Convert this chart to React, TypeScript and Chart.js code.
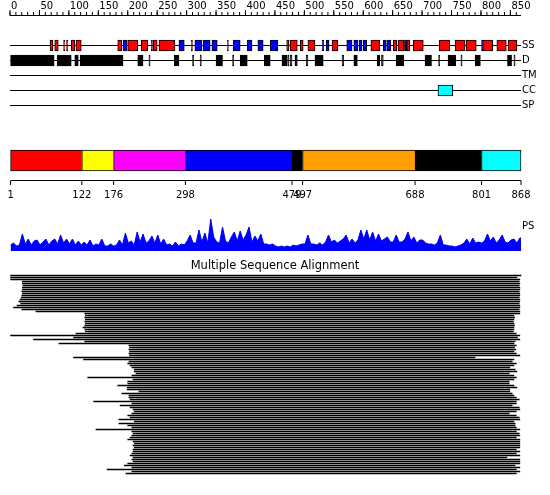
import React, { useEffect, useRef } from "react";
import { Chart, registerables } from "chart.js";

Chart.register(...registerables);

// ---------------- data ----------------
const SEQ_LENGTH = 868;
const RULER_LABELS = [0, 50, 100, 150, 200, 250, 300, 350, 400, 450, 500, 550, 600, 650, 700, 750, 800, 850];
const RULER_MINOR_STEP = 10;
const TRACK_NAMES = ["SS", "D", "TM", "CC", "SP"];

const SS_HELIX: [number, number][] = [
  [68, 73], [76, 82], [91, 93], [96, 98], [104, 110], [112, 121], [183, 190], [200, 217],
  [223, 234], [243, 250], [253, 280], [308, 310], [369, 371], [470, 474], [476, 488],
  [493, 498], [506, 518], [547, 557], [613, 628], [651, 657], [659, 669], [674, 679],
  [685, 702], [729, 747], [756, 773], [775, 792], [803, 820], [827, 843], [846, 861],
];
const SS_STRAND: [number, number][] = [
  [192, 199], [240, 242], [287, 296], [314, 326], [328, 340], [343, 352], [379, 391],
  [403, 411], [421, 430], [442, 455], [530, 533], [537, 542], [572, 581], [584, 591],
  [593, 598], [600, 606], [634, 639], [640, 647], [670, 674], [801, 804],
];
const DISORDER: [number, number][] = [
  [1, 75], [80, 104], [110, 116], [119, 192], [217, 226], [236, 238], [279, 287], [310, 312],
  [323, 325], [350, 361], [378, 380], [391, 403], [432, 442], [462, 471], [472, 474],
  [476, 479], [484, 488], [503, 506], [518, 532], [564, 567], [584, 590], [624, 628],
  [631, 634], [656, 669], [705, 716], [728, 730], [744, 757], [766, 768], [790, 799],
  [845, 852], [856, 858],
];
const TRANSMEMBRANE: [number, number][] = [];
const COILED_COIL: [number, number][] = [[727, 752]];
const SIGNAL_PEPTIDE: [number, number][] = [];

const DOMAIN_BOUNDARIES = [1, 122, 176, 298, 479, 497, 688, 801, 868];
const DOMAIN_COLORS = ["#ff0000", "#ffff00", "#ff00ff", "#0000ff", "#000000", "#ffa000", "#000000", "#00ffff"];

const PS_STEP = 5; // one value every 5 residues, starting at residue 1
const PS_VALUES = [
  6, 8, 5, 6, 17, 7, 12, 6, 10, 11,
  6, 9, 12, 6, 10, 12, 7, 16, 8, 12,
  7, 12, 6, 10, 6, 9, 6, 11, 5, 7,
  6, 12, 5, 5, 7, 5, 6, 11, 6, 18,
  8, 10, 6, 19, 9, 17, 8, 10, 15, 8,
  16, 7, 12, 6, 7, 5, 9, 5, 7, 6,
  10, 16, 8, 8, 21, 9, 18, 8, 32, 14,
  9, 8, 24, 10, 8, 14, 19, 10, 20, 11,
  16, 24, 9, 15, 10, 17, 7, 7, 6, 7,
  5, 4, 5, 4, 5, 4, 6, 5, 6, 7,
  7, 16, 7, 7, 6, 8, 6, 9, 16, 9,
  11, 8, 10, 12, 16, 8, 12, 8, 11, 21,
  12, 21, 11, 19, 10, 17, 10, 12, 14, 9,
  9, 16, 9, 9, 12, 19, 10, 14, 8, 11,
  11, 8, 7, 7, 6, 8, 16, 6, 6, 5,
  5, 4, 5, 6, 8, 12, 7, 13, 8, 9,
  8, 10, 17, 10, 14, 8, 11, 16, 9, 8,
  11, 12, 8, 13,
];

const MSA_START = [
  1, 1, 1, 21, 21, 22, 21, 21, 20, 21,
  20, 19, 17, 15, 18, 12, 6, 20, 44, 127,
  128, 127, 128, 127, 128, 127, 124, 127, 128, 112,
  1, 108, 40, 127, 83, 202, 203, 202, 203, 202,
  203, 108, 125, 202, 200, 204, 207, 211, 211, 214,
  207, 132, 209, 200, 200, 183, 199, 199, 219, 190,
  202, 202, 204, 142, 207, 187, 204, 209, 211, 207,
  200, 204, 185, 211, 185, 200, 207, 146, 207, 209,
  207, 204, 200, 209, 211, 209, 211, 209, 209, 207,
  204, 209, 207, 209, 200, 194, 207, 165, 207, 197,
];
const MSA_END = [
  868, 861, 866, 865, 866, 865, 866, 866, 865, 866,
  866, 865, 866, 866, 865, 866, 866, 865, 866, 866,
  856, 857, 856, 855, 856, 857, 856, 856, 855, 860,
  866, 862, 866, 858, 856, 860, 857, 859, 856, 860,
  866, 790, 856, 853, 860, 856, 849, 858, 861, 848,
  856, 860, 856, 848, 848, 856, 861, 849, 849, 853,
  856, 860, 865, 860, 860, 853, 865, 866, 860, 848,
  860, 865, 866, 856, 858, 858, 860, 866, 860, 865,
  866, 860, 866, 866, 866, 866, 866, 860, 866, 860,
  866, 844, 866, 866, 866, 858, 866, 860, 866, 860,
];

// ---------------- layout (pixel units on the y scale) ----------------
const W = 550;
const H = 495;
const L = {
  leftPx: 10,
  rightPx: 521,
  rulerLine: 15.5,
  rulerText: 6.5,
  minorTickY: 13.75,
  minorTickR: 1.75,
  majorTickY: 12.75,
  majorTickR: 2.75,
  tracks: [45.5, 60.5, 75.5, 90.5, 105.5],
  trackBox: 11,
  domainBar: 160.5,
  domainThickness: 21,
  domainAxis: 180.5,
  domainTickY: 182.75,
  domainTickR: 2.25,
  domainText: 195.5,
  psBase: 251,
  psLabel: 226,
  msaTitle: 266,
  msaTop: 275.5,
  msaGap: 2,
};

const xRange = (W * SEQ_LENGTH) / (L.rightPx - L.leftPx);
const xMin = (-L.leftPx * xRange) / W;
const xMax = xMin + xRange;

const FONT = "'DejaVu Sans', sans-serif";

function boxDataset(segs: [number, number][], row: number, color: string) {
  return {
    type: "bar" as const,
    indexAxis: "y" as const,
    xAxisID: "x",
    yAxisID: "y",
    stack: "all",
    data: segs.map(([s, e]) => ({ x: [s, e], y: row })),
    backgroundColor: color,
    borderColor: "#000000",
    borderWidth: 1,
    borderSkipped: false,
    barThickness: L.trackBox,
    order: 1,
  };
}

function hLine(y: number, x0: number, x1: number) {
  return {
    type: "line" as const,
    xAxisID: "x",
    yAxisID: "y",
    data: [{ x: x0, y }, { x: x1, y }],
    borderColor: "#000000",
    borderWidth: 1,
    pointRadius: 0,
    fill: false,
    order: 10,
  };
}

function tickDataset(xs: number[], y: number, r: number) {
  return {
    type: "line" as const,
    xAxisID: "x",
    yAxisID: "y",
    data: xs.map((x) => ({ x, y })),
    showLine: false,
    pointStyle: "line",
    pointRotation: 90,
    pointRadius: r,
    pointBorderWidth: 1,
    pointBorderColor: "#000000",
    pointBackgroundColor: "#000000",
    order: 5,
  };
}

const textPlugin = {
  id: "labels",
  afterDraw(chart: any) {
    const ctx = chart.ctx as CanvasRenderingContext2D;
    const xs = chart.scales.x;
    const ys = chart.scales.y;
    ctx.save();
    ctx.fillStyle = "#000000";
    ctx.textBaseline = "middle";

    ctx.font = `10px ${FONT}`;
    ctx.textAlign = "left";
    for (const v of RULER_LABELS) {
      ctx.fillText(String(v), xs.getPixelForValue(v) + 1, ys.getPixelForValue(L.rulerText));
    }
    TRACK_NAMES.forEach((n, i) => {
      ctx.fillText(n, xs.getPixelForValue(SEQ_LENGTH) + 1, ys.getPixelForValue(L.tracks[i]));
    });
    ctx.fillText("PS", xs.getPixelForValue(SEQ_LENGTH) + 1, ys.getPixelForValue(L.psLabel));

    ctx.textAlign = "center";
    for (const b of DOMAIN_BOUNDARIES) {
      ctx.fillText(String(b), xs.getPixelForValue(b), ys.getPixelForValue(L.domainText));
    }

    ctx.font = `11.5px ${FONT}`;
    ctx.fillText("Multiple Sequence Alignment", W / 2, ys.getPixelForValue(L.msaTitle));
    ctx.restore();
  },
};

export default function App() {
  const ref = useRef<HTMLCanvasElement>(null);
  useEffect(() => {
    const minor: number[] = [];
    for (let v = 0; v <= SEQ_LENGTH; v += RULER_MINOR_STEP) minor.push(v);

    const domainSegs: [number, number][] = DOMAIN_COLORS.map((_, i) => [DOMAIN_BOUNDARIES[i], DOMAIN_BOUNDARIES[i + 1]]);
    const nDom = domainSegs.length;

    const datasets: any[] = [
      boxDataset(SS_HELIX, L.tracks[0], "#ff0000"),
      boxDataset(SS_STRAND, L.tracks[0], "#0000ff"),
      boxDataset(DISORDER, L.tracks[1], "#000000"),
      boxDataset(TRANSMEMBRANE, L.tracks[2], "#ffff00"),
      boxDataset(COILED_COIL, L.tracks[3], "#00ffff"),
      boxDataset(SIGNAL_PEPTIDE, L.tracks[4], "#00ff00"),
      {
        ...boxDataset(domainSegs, L.domainBar, "#000"),
        backgroundColor: DOMAIN_COLORS,
        barThickness: L.domainThickness,
        borderWidth: (c: any) =>
          c.dataIndex === nDom - 1 ? 1 : { top: 1, bottom: 1, left: 1, right: 0 },
      },
      {
        type: "bar",
        indexAxis: "y",
        xAxisID: "x",
        yAxisID: "y",
        stack: "all",
        data: MSA_START.map((s, k) => ({ x: [s, MSA_END[k]], y: L.msaTop + k * L.msaGap })),
        backgroundColor: "#000000",
        borderWidth: 0,
        barThickness: 1,
        order: 1,
      },
      {
        type: "line",
        xAxisID: "x",
        yAxisID: "yps",
        data: PS_VALUES.map((h, i) => ({ x: 1 + i * PS_STEP, y: h })).concat([{ x: SEQ_LENGTH, y: PS_VALUES[PS_VALUES.length - 1] }]),
        borderColor: "#0000ff",
        backgroundColor: "#0000ff",
        borderWidth: 1,
        pointRadius: 0,
        fill: "origin",
        tension: 0,
        order: 3,
      },
      hLine(L.rulerLine, 0, SEQ_LENGTH),
      ...L.tracks.map((y) => hLine(y, 0, SEQ_LENGTH)),
      hLine(L.domainAxis, 1, SEQ_LENGTH),
      tickDataset(minor, L.minorTickY, L.minorTickR),
      tickDataset(RULER_LABELS, L.majorTickY, L.majorTickR),
      tickDataset(DOMAIN_BOUNDARIES, L.domainTickY, L.domainTickR),
    ];

    const chart = new Chart(ref.current as HTMLCanvasElement, {
      type: "line",
      data: { datasets },
      options: {
        responsive: false,
        animation: false,
        events: [],
        layout: { padding: 0, autoPadding: false },
        plugins: {
          legend: { display: false },
          tooltip: { enabled: false },
        },
        scales: {
          x: { type: "linear", min: xMin, max: xMax, display: false, stacked: false, offset: false, grid: { offset: false } },
          y: { type: "linear", min: 0, max: H, reverse: true, display: false, offset: false, grid: { offset: false } },
          yps: { type: "linear", min: -(H - L.psBase), max: L.psBase, display: false, offset: false, grid: { offset: false } },
        },
      } as any,
      plugins: [textPlugin],
    } as any);
    return () => chart.destroy();
  }, []);

  return (
    <div style={{ position: "absolute", left: 0, top: 0, width: W, height: H, background: "#ffffff" }}>
      <canvas ref={ref} width={W} height={H} style={{ display: "block" }} />
    </div>
  );
}
